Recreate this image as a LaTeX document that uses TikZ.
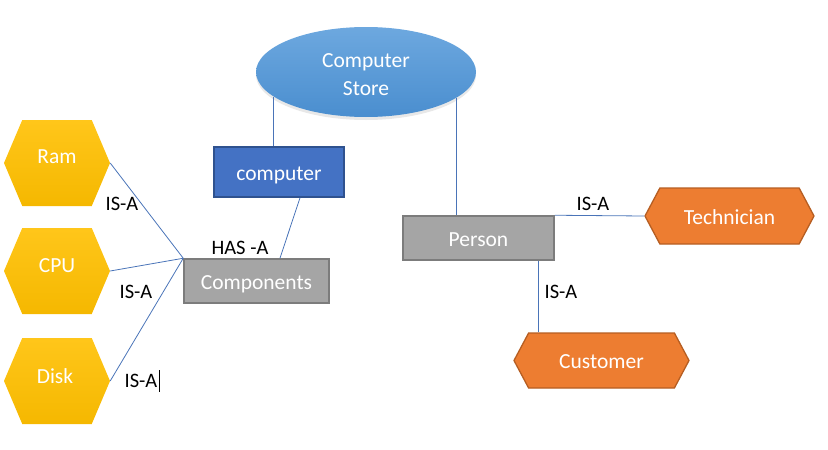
\documentclass[tikz,border=0pt]{standalone}
\usepackage{fontspec}
\setmainfont{Carlito}
\usetikzlibrary{shapes.geometric,shapes.symbols,calc,shadows}
\definecolor{conn}{HTML}{4A74B8}
\definecolor{grayfill}{HTML}{A5A5A5}
\definecolor{grayline}{HTML}{7C7C7C}
\definecolor{bluefill}{HTML}{4472C4}
\definecolor{blueline}{HTML}{2F528F}
\definecolor{orfill}{HTML}{ED7D31}
\definecolor{orline}{HTML}{B65E22}
\definecolor{yelltop}{HTML}{FFC61A}
\definecolor{yellbot}{HTML}{F5B800}
\definecolor{elltop}{HTML}{6DA8DF}
\definecolor{ellbot}{HTML}{4A8ECF}
\tikzset{
  nodetext/.style={text=white,font=\fontsize{21.5}{28}\selectfont},
  boxtext/.style={nodetext,text height=18pt,text depth=2pt},
  lbl/.style={text=black,font=\fontsize{20.5}{24}\selectfont,inner sep=0pt},
  graybox/.style={draw=grayline,line width=1.5pt,fill=grayfill,inner sep=0pt,boxtext},
  bluebox/.style={draw=blueline,line width=1.5pt,fill=bluefill,inner sep=0pt,boxtext},
  orhex/.style={signal,signal to=west and east,signal pointer angle=124,draw=orline,line width=1.3pt,fill=orfill,inner sep=0pt,boxtext},
  yhex/.style={signal,signal to=west and east,signal pointer angle=134,top color=yelltop,bottom color=yellbot,draw=none,inner sep=0pt,minimum width=106pt,minimum height=86pt},
  conn/.style={draw=conn,line width=0.8pt},
}
\begin{document}
\begin{tikzpicture}[x=1pt,y=-1pt]
\useasboundingbox (0,0) rectangle (828,450);
% Computer Store
\node[ellipse,minimum width=220pt,minimum height=90pt,top color=elltop,bottom color=ellbot,draw=none,inner sep=0pt,
      drop shadow={opacity=0.18,shadow xshift=0pt,shadow yshift=-3pt}] (store) at (366,72) {};
\node[nodetext,align=center] (storet) at (366,75) {Computer\\Store};
% rectangles
\node[bluebox,minimum width=130pt,minimum height=50pt] (computer) at (279,172) {computer};
\node[graybox,minimum width=145pt,minimum height=44pt] (components) at (256.5,281) {Components};
\node[graybox,minimum width=151pt,minimum height=44pt] (person) at (478.5,238) {Person};
% orange hexagons
\node[orhex,minimum width=169pt,minimum height=56pt] (tech) at (729.5,216) {Technician};
\node[orhex,minimum width=175pt,minimum height=55pt] (cust) at (601.5,360.5) {Customer};
% yellow hexagons
\node[yhex] (ram) at (57,163) {};
\node[yhex] (cpu) at (57,271) {};
\node[yhex] (disk) at (57,381) {};
\node[nodetext] (ramt) at (57,157) {Ram};
\node[nodetext] (cput) at (57,266) {CPU};
\node[nodetext] (diskt) at (55,376) {Disk};
% connectors
\draw[conn] (store.195) -- (store.195 |- computer.north);
\draw[conn] (store.344) -- (store.344 |- person.north);
\draw[conn] ($(computer.south west)!0.66!(computer.south east)$) -- ($(components.north west)!0.66!(components.north east)$);
\draw[conn] (ram.east) -- (components.north west);
\draw[conn] (cpu.east) -- (components.north west);
\draw[conn] (disk.east) -- (components.north west);
\draw[conn] (person.north east) -- (tech.west);
\coordinate (pc) at ($(person.south west)!0.89!(person.south east)$);
\draw[conn] (pc) -- (pc |- cust.north);
% labels
\node[lbl] (l1) at (122,204) {IS-A};
\node[lbl] (l2) at (136,292) {IS-A};
\node[lbl] (l3) at (141,381) {IS-A};
\node[lbl] (has) at (240,248) {HAS -A};
\node[lbl] (l4) at (593,204) {IS-A};
\node[lbl] (l5) at (561,292) {IS-A};
\draw[black,line width=0.8pt] ([xshift=1.5pt]l3.east |- 0,370) -- ([xshift=1.5pt]l3.east |- 0,392);
\end{tikzpicture}
\end{document}
